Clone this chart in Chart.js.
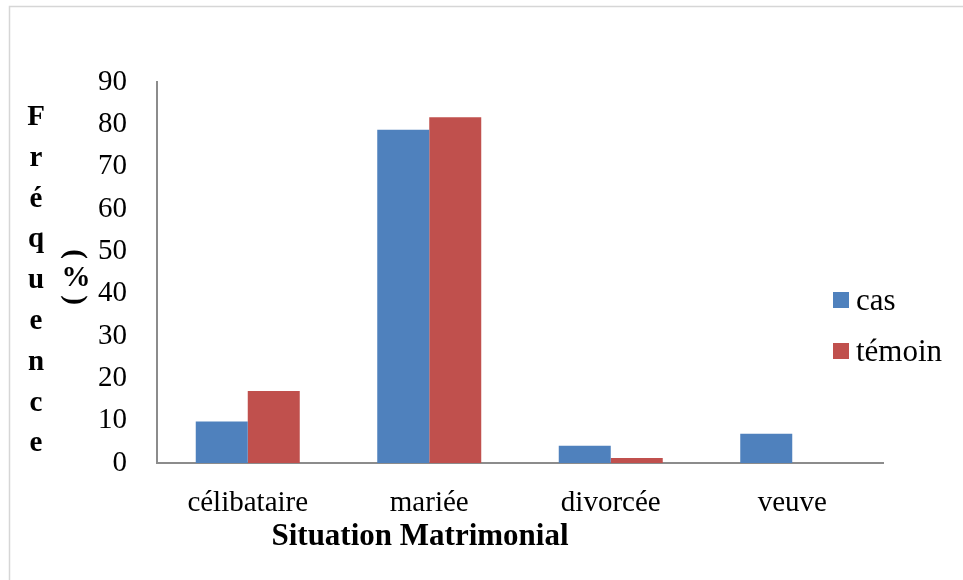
<!DOCTYPE html>
<html>
<head>
<meta charset="utf-8">
<script src="https://cdn.jsdelivr.net/npm/chart.js@4/dist/chart.umd.min.js"></script>
<style>
  html, body { margin: 0; padding: 0; background: #ffffff; }
  canvas { display: block; }
</style>
</head>
<body>
<canvas id="chart" width="963" height="580"></canvas>
<script>
// Situation matrimoniale : fréquence (%) chez les cas et les témoins
const categories = ['célibataire', 'mariée', 'divorcée', 'veuve'];
const casValues = [9.8, 78.7, 4.1, 6.9];
const temoinValues = [17.0, 81.7, 1.2, 0];
const yTicks = [0, 10, 20, 30, 40, 50, 60, 70, 80, 90];
const seriesNames = ['cas', 'témoin'];
const xTitle = 'Situation Matrimonial';
const yTitleLetters = ['F', 'r', 'é', 'q', 'u', 'e', 'n', 'c', 'e'];

const BLUE = '#4F81BD';
const RED = '#C0504D';
const AXIS = '#8c8c8c';
const SERIF = "'Liberation Serif', 'Times New Roman', serif";

// Frame, stacked axis title, x title and legend drawn on the canvas
const decorations = {
  id: 'decorations',
  beforeDraw(chart) {
    const ctx = chart.ctx;
    ctx.save();
    ctx.fillStyle = '#ffffff';
    ctx.fillRect(0, 0, chart.width, chart.height);
    ctx.strokeStyle = '#d6d6d6';
    ctx.lineWidth = 1.5;
    ctx.beginPath();
    ctx.moveTo(9.5, chart.height + 5);
    ctx.lineTo(9.5, 6.5);
    ctx.lineTo(chart.width + 5, 6.5);
    ctx.stroke();
    ctx.restore();
  },
  afterDraw(chart) {
    const ctx = chart.ctx;
    ctx.save();
    ctx.fillStyle = '#000000';

    // Vertical letters of "Fréquence"
    ctx.font = 'bold 29px ' + SERIF;
    ctx.textAlign = 'center';
    ctx.textBaseline = 'alphabetic';
    yTitleLetters.forEach((ch, i) => {
      ctx.fillText(ch, 36, 125 + i * 40.8);
    });

    // "( % )" with turned parentheses
    ctx.font = 'bold 29px ' + SERIF;
    ctx.textBaseline = 'middle';
    ctx.fillText('%', 76, 279);
    ctx.save();
    ctx.translate(74, 254);
    ctx.rotate(Math.PI / 2);
    ctx.fillText('(', 0, 0);
    ctx.restore();
    ctx.save();
    ctx.translate(74, 300);
    ctx.rotate(Math.PI / 2);
    ctx.fillText(')', 0, 0);
    ctx.restore();

    // x-axis title
    ctx.font = 'bold 31px ' + SERIF;
    ctx.textAlign = 'center';
    ctx.textBaseline = 'alphabetic';
    ctx.fillText(xTitle, 420, 545);

    // Legend
    const colors = [BLUE, RED];
    const baselines = [310, 361];
    ctx.font = '31px ' + SERIF;
    ctx.textAlign = 'left';
    seriesNames.forEach((name, i) => {
      ctx.fillStyle = colors[i];
      ctx.fillRect(833, baselines[i] - 18, 16, 16);
      ctx.fillStyle = '#000000';
      ctx.fillText(name, 856, baselines[i]);
    });
    ctx.restore();
  }
};

new Chart(document.getElementById('chart'), {
  type: 'bar',
  data: {
    labels: categories,
    datasets: [
      { label: seriesNames[0], data: casValues, backgroundColor: BLUE, borderWidth: 0 },
      { label: seriesNames[1], data: temoinValues, backgroundColor: RED, borderWidth: 0 }
    ]
  },
  options: {
    responsive: false,
    animation: false,
    events: [],
    datasets: {
      bar: { categoryPercentage: 0.573, barPercentage: 1.0 }
    },
    layout: { padding: { left: 0, top: 82, right: 80, bottom: 0 } },
    plugins: {
      legend: { display: false },
      title: { display: false },
      tooltip: { enabled: false }
    },
    scales: {
      x: {
        grid: { display: false, drawTicks: false },
        border: { display: true, color: AXIS, width: 2 },
        ticks: {
          color: '#000000',
          padding: 23,
          maxRotation: 0,
          font: { family: SERIF, size: 29 }
        },
        afterFit(scale) { scale.height = 580 - 463; }
      },
      y: {
        min: 0,
        max: yTicks[yTicks.length - 1],
        afterBuildTicks(scale) {
          scale.ticks = yTicks.map(v => ({ value: v }));
        },
        grid: { display: false, drawTicks: false },
        border: { display: true, color: AXIS, width: 2 },
        ticks: {
          color: '#000000',
          padding: 30,
          font: { family: SERIF, size: 29 }
        },
        afterFit(scale) { scale.width = 157; }
      }
    }
  },
  plugins: [decorations]
});
</script>
</body>
</html>
